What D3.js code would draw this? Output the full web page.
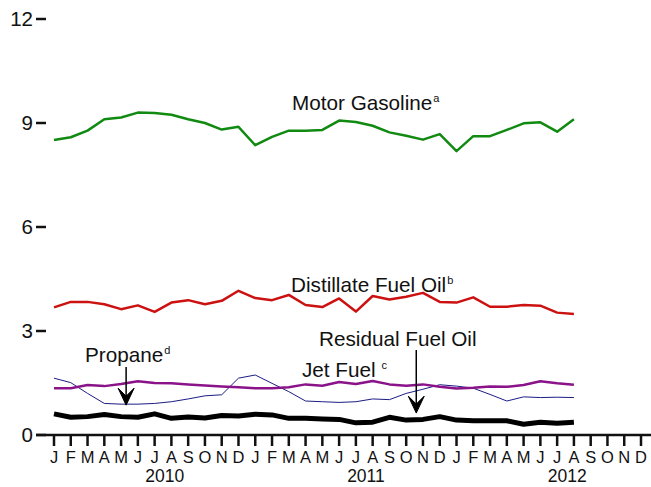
<!DOCTYPE html>
<html>
    <head>
        <meta charset="utf-8"/>
        <script src="https://cdnjs.cloudflare.com/ajax/libs/d3/7.8.5/d3.min.js"></script>
        <style>
            body { margin: 0; background: #fff; }
            text { font-family: "Liberation Sans", Arial, sans-serif; fill: #111; }
        </style>
    </head>
    <body>
        <script>
            // month letters and years along the bottom
            const monthLetters = ["J","F","M","A","M","J","J","A","S","O","N","D"]
            const years = ["2010", "2011", "2012"]
            const yTicks = [0, 3, 6, 9, 12]

            // values Jan 2010 - Aug 2012
            const motorGasoline = [8.51,8.59,8.78,9.11,9.16,9.30,9.29,9.24,9.11,9.00,8.81,8.89,
                                   8.36,8.60,8.78,8.78,8.80,9.07,9.03,8.92,8.73,8.63,8.52,8.68,
                                   8.19,8.62,8.62,8.80,8.99,9.02,8.75,9.11]
            const distillate = [3.68,3.84,3.84,3.77,3.63,3.74,3.55,3.82,3.89,3.77,3.87,4.16,
                                3.95,3.89,4.04,3.75,3.69,3.94,3.56,4.01,3.91,3.99,4.10,3.84,
                                3.82,3.97,3.70,3.70,3.75,3.73,3.53,3.49]
            const jetFuel = [1.35,1.35,1.44,1.41,1.47,1.55,1.50,1.49,1.46,1.43,1.40,1.38,
                             1.35,1.35,1.38,1.46,1.42,1.53,1.47,1.56,1.46,1.42,1.46,1.39,
                             1.34,1.36,1.40,1.39,1.44,1.55,1.49,1.45]
            const propane = [1.64,1.51,1.20,0.91,0.89,0.89,0.91,0.96,1.04,1.13,1.16,1.64,
                             1.73,1.49,1.25,0.98,0.96,0.94,0.96,1.04,1.02,1.20,1.32,1.45,
                             1.41,1.35,1.17,0.98,1.10,1.08,1.09,1.08]
            const residual = [0.61,0.51,0.53,0.59,0.53,0.51,0.61,0.48,0.52,0.49,0.56,0.55,
                              0.60,0.58,0.48,0.48,0.46,0.45,0.35,0.37,0.51,0.43,0.45,0.53,
                              0.43,0.41,0.41,0.41,0.31,0.37,0.34,0.37]

            const width = 651, height = 487
            const nMonths = monthLetters.length * years.length

            const x = d3.scaleLinear().domain([0, nMonths - 1]).range([54, 641])
            const y = d3.scaleLinear().domain([0, 12]).range([435, 19])

            const svg = d3.select("body").append("svg")
                .attr("width", width).attr("height", height)

            // y ticks: only the little dashes, no axis line
            const yAxis = svg.append("g")
            yAxis.selectAll("line").data(yTicks).join("line")
                .attr("x1", 36).attr("x2", 46)
                .attr("y1", d => y(d)).attr("y2", d => y(d))
                .attr("stroke", "#111").attr("stroke-width", 2.5)
            yAxis.selectAll("text").data(yTicks).join("text")
                .attr("x", 33).attr("y", d => y(d))
                .attr("dy", "0.36em")
                .attr("text-anchor", "end")
                .attr("font-size", 20.5)
                .text(d => d)

            // x axis
            const xAxis = svg.append("g")
            xAxis.append("line")
                .attr("x1", 36).attr("x2", width)
                .attr("y1", y(0)).attr("y2", y(0))
                .attr("stroke", "#111").attr("stroke-width", 2.5)
            const months = d3.range(nMonths)
            xAxis.selectAll(".tick").data(months).join("line")
                .attr("class", "tick")
                .attr("x1", d => x(d)).attr("x2", d => x(d))
                .attr("y1", y(0)).attr("y2", y(0) + 11)
                .attr("stroke", "#111").attr("stroke-width", 2.5)
            xAxis.selectAll(".mlab").data(months).join("text")
                .attr("class", "mlab")
                .attr("x", d => x(d)).attr("y", 463)
                .attr("text-anchor", "middle")
                .attr("font-size", 16.5)
                .text(d => monthLetters[d % 12])
            xAxis.selectAll(".ylab").data(years).join("text")
                .attr("class", "ylab")
                .attr("x", (d, i) => x(i * 12 + 6.6)).attr("y", 482)
                .attr("text-anchor", "middle")
                .attr("font-size", 17.5)
                .text(d => d)

            const line = d3.line().x((d, i) => x(i)).y(d => y(d))

            const series = [
                {values: residual, color: "#000", w: 5},
                {values: propane, color: "#1c1c85", w: 1},
                {values: jetFuel, color: "#8a138a", w: 2.5},
                {values: distillate, color: "#cc1111", w: 2.5},
                {values: motorGasoline, color: "#118a11", w: 2.5}
            ]
            svg.append("g").selectAll("path").data(series).join("path")
                .attr("d", d => line(d.values))
                .attr("fill", "none")
                .attr("stroke", d => d.color)
                .attr("stroke-width", d => d.w)
                .attr("stroke-linejoin", "round")

            // labels with superscripts
            function label(txt, sup, lx, ly, gap) {
                const t = svg.append("text").attr("x", lx).attr("y", ly).attr("font-size", 20.7)
                t.append("tspan").text(txt)
                if (sup) t.append("tspan").attr("dx", gap || 1).attr("dy", -8).attr("font-size", 11).text(sup)
            }
            label("Motor Gasoline", "a", 292, 110)
            label("Distillate Fuel Oil", "b", 291, 292)
            label("Residual Fuel Oil", null, 319, 346)
            label("Jet Fuel", "c", 302, 377, 6)
            label("Propane", "d", 85, 362)

            // arrows
            function arrow(ax, y0, y1) {
                svg.append("line").attr("x1", ax).attr("x2", ax)
                    .attr("y1", y0).attr("y2", y1 - 6)
                    .attr("stroke", "#000").attr("stroke-width", 1.5)
                svg.append("path")
                    .attr("d", `M${ax},${y1} L${ax - 8},${y1 - 17} L${ax},${y1 - 9} L${ax + 8},${y1 - 17} Z`)
                    .attr("fill", "#000")
                    .attr("stroke", "#000").attr("stroke-width", 1)
                    .attr("stroke-linejoin", "miter")
            }
            arrow(x(4.3), 367, y(propane[4]) + 1)
            arrow(x(21.6), 350, y(residual[21]) - 7)
        </script>
    </body>
</html>
